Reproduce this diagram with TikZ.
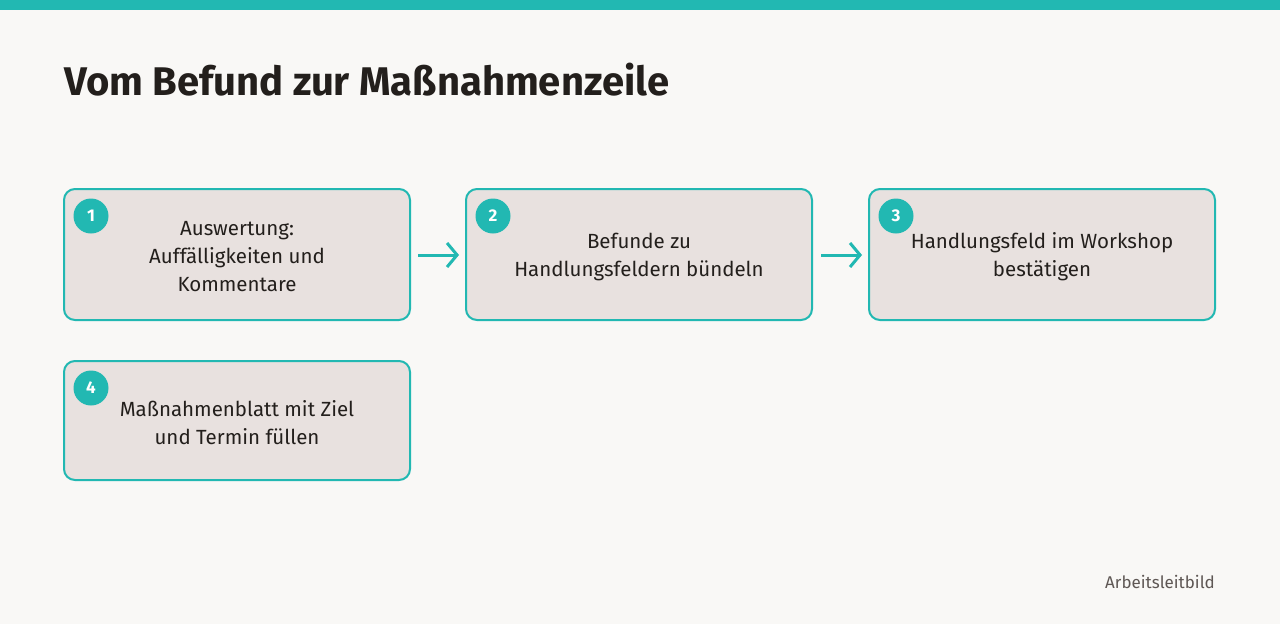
\documentclass[tikz,border=0pt]{standalone}
\usepackage{fontspec}
\setmainfont{Fira Sans}
\usetikzlibrary{arrows.meta}
\definecolor{teal}{HTML}{22B8B2}
\definecolor{bg}{HTML}{F9F8F6}
\definecolor{boxfill}{HTML}{E8E1DF}
\definecolor{ink}{HTML}{231F1C}
\definecolor{muted}{HTML}{5E5754}
\tikzset{
  stepbox/.style={draw=teal, line width=2pt, fill=boxfill, rounded corners=11pt},
  numdot/.style={circle, fill=teal, minimum size=35pt, inner sep=0pt, text=white, font=\fontsize{17}{17}\selectfont\bfseries},
  label/.style={align=center, text=ink, font=\fontsize{20.5}{28}\selectfont},
  flow/.style={draw=teal, line width=3pt, -{Straight Barb[length=10pt,width=24pt,line width=3pt]}}
}
\begin{document}
\begin{tikzpicture}[x=1pt,y=-1pt]
\useasboundingbox (0,0) rectangle (1280,624);
\fill[bg] (0,0) rectangle (1280,624);
\fill[teal] (0,0) rectangle (1280,10);
\node[anchor=base west, inner sep=0pt, text=ink, font=\fontsize{40}{40}\selectfont\fontseries{sb}\selectfont] (title) at (64,95) {Vom Befund zur Maßnahmenzeile};

\draw[stepbox] (64,189) rectangle (410,320);
\draw[stepbox] (466,189) rectangle (812,320);
\draw[stepbox] (869,189) rectangle (1215,320);
\draw[stepbox] (64,361) rectangle (410,480);
\coordinate (b1e) at (410,255);
\coordinate (b2w) at (466,255);
\coordinate (b2e) at (812,255);
\coordinate (b3w) at (869,255);

\node[label] (t1) at (237,257) {Auswertung:\\Auffälligkeiten und\\Kommentare};
\node[label] (t2) at (639,257) {Befunde zu\\Handlungsfeldern bündeln};
\node[label] (t3) at (1042,257) {Handlungsfeld im Workshop\\bestätigen};
\node[label] (t4) at (237,423) {Maßnahmenblatt mit Ziel\\und Termin füllen};

\node[numdot] (n1) at (91,216) {1};
\node[numdot] (n2) at (493,216) {2};
\node[numdot] (n3) at (896,216) {3};
\node[numdot] (n4) at (91,388) {4};

\draw[flow] ([xshift=8pt]b1e) -- ([xshift=-7pt]b2w);
\draw[flow] ([xshift=9pt]b2e) -- ([xshift=-7pt]b3w);

\node[anchor=base east, inner sep=0pt, text=muted, font=\fontsize{17}{17}\selectfont] (foot) at (1215,588) {Arbeitsleitbild};
\end{tikzpicture}
\end{document}
